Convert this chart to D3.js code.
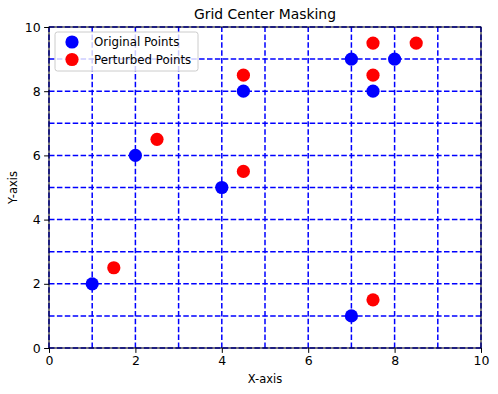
<!DOCTYPE html>
<html>
<head>
<meta charset="utf-8">
<script src="https://cdn.jsdelivr.net/npm/d3@7"></script>
<style>
	body { margin: 0; background: #fff; }
	text { font-family: "DejaVu Sans", sans-serif; fill: #000; }
</style>
</head>
<body>
<script>
var origX = [1, 2, 4, 4.5, 7, 8, 7.5, 7];
var origY = [2, 6, 5, 8, 9, 9, 8, 1];
var pertX = [1.5, 2.5, 4.5, 4.5, 7.5, 8.5, 7.5, 7.5];
var pertY = [2.5, 6.5, 5.5, 8.5, 9.5, 9.5, 8.5, 1.5];
var gridLines = [0, 1, 2, 3, 4, 5, 6, 7, 8, 9, 10];
var ticks = [0, 2, 4, 6, 8, 10];
var seriesNames = ["Original Points", "Perturbed Points"];
var seriesColors = ["#0000ff", "#ff0000"];

var W = 498, H = 394;
var plot = {left: 49, right: 481, top: 27, bottom: 348};

var svg = d3.select("body").append("svg").attr("width", W).attr("height", H);

var x = d3.scaleLinear().domain([0, 10]).range([plot.left, plot.right]);
var y = d3.scaleLinear().domain([0, 10]).range([plot.bottom, plot.top]);

// dashed grid
var grid = svg.append("g").attr("class", "grid")
	.attr("stroke", "#0000ff")
	.attr("stroke-width", 1.5)
	.attr("stroke-dasharray", "5.5,2.4");
grid.selectAll(".vl").data(gridLines).enter().append("line")
	.attr("x1", d => x(d)).attr("x2", d => x(d))
	.attr("y1", plot.bottom).attr("y2", plot.top);
grid.selectAll(".hl").data(gridLines).enter().append("line")
	.attr("y1", d => y(d)).attr("y2", d => y(d))
	.attr("x1", plot.left).attr("x2", plot.right);

// points
var orig = origX.map((d, i) => ({x: d, y: origY[i]}));
var pert = pertX.map((d, i) => ({x: d, y: pertY[i]}));
svg.append("g").selectAll("circle").data(orig).enter().append("circle")
	.attr("cx", d => x(d.x)).attr("cy", d => y(d.y)).attr("r", 6.6)
	.attr("fill", seriesColors[0]);
svg.append("g").selectAll("circle").data(pert).enter().append("circle")
	.attr("cx", d => x(d.x)).attr("cy", d => y(d.y)).attr("r", 6.6)
	.attr("fill", seriesColors[1]);

// axes
var xAxis = svg.append("g").attr("transform", `translate(0,${plot.bottom})`)
	.call(d3.axisBottom(x).tickValues(ticks).tickSize(4.9).tickPadding(3.5).tickFormat(d3.format("d")));
var yAxis = svg.append("g").attr("transform", `translate(${plot.left},0)`)
	.call(d3.axisLeft(y).tickValues(ticks).tickSize(4.9).tickPadding(3.5).tickFormat(d3.format("d")));
[xAxis, yAxis].forEach(function(a){
	a.select(".domain").remove();
	a.selectAll("line").attr("stroke", "#000").attr("stroke-width", 1);
	a.selectAll("text").style("font-family", '"DejaVu Sans", sans-serif').style("font-size", "12.5px");
});

// spines
svg.append("rect")
	.attr("x", plot.left).attr("y", plot.top)
	.attr("width", plot.right - plot.left).attr("height", plot.bottom - plot.top)
	.attr("fill", "none").attr("stroke", "#000").attr("stroke-width", 1);

// titles
svg.append("text").attr("x", (plot.left + plot.right) / 2).attr("y", 19)
	.attr("text-anchor", "middle").style("font-size", "13.9px").text("Grid Center Masking");
svg.append("text").attr("x", (plot.left + plot.right) / 2).attr("y", 383)
	.attr("text-anchor", "middle").style("font-size", "11.5px").text("X-axis");
svg.append("text").attr("transform", `translate(17,${(plot.top + plot.bottom) / 2}) rotate(-90)`)
	.attr("text-anchor", "middle").style("font-size", "11.5px").text("Y-axis");

// legend
var legend = svg.append("g").attr("transform", "translate(55,32)");
legend.append("rect").attr("width", 143).attr("height", 39).attr("rx", 2.5)
	.attr("fill", "#fff").attr("fill-opacity", 0.8).attr("stroke", "#ccc").attr("stroke-width", 1);
seriesNames.forEach(function(name, i){
	var row = legend.append("g").attr("transform", `translate(0,${10 + i * 17.5})`);
	row.append("circle").attr("cx", 17).attr("cy", 0).attr("r", 6.6).attr("fill", seriesColors[i]);
	row.append("text").attr("x", 39).attr("y", 0).attr("dominant-baseline", "central")
		.style("font-size", "11.8px").text(name);
});
</script>
</body>
</html>
